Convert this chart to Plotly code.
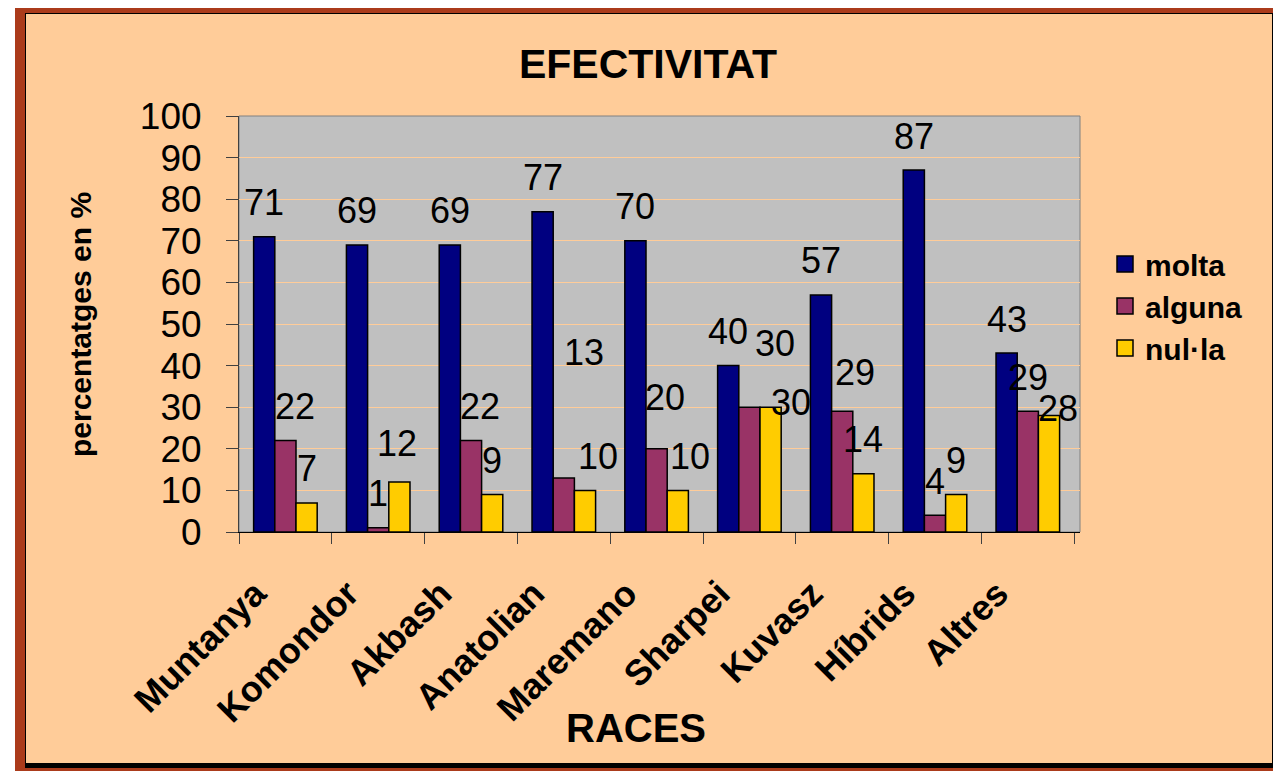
import plotly.graph_objects as go

# data
races = ["Muntanya", "Komondor", "Akbash", "Anatolian", "Maremano",
         "Sharpei", "Kuvasz", "Híbrids", "Altres"]
molta = [71, 69, 69, 77, 70, 40, 57, 87, 43]
alguna = [22, 1, 22, 13, 20, 30, 29, 4, 29]
nulla = [7, 12, 9, 10, 10, 30, 14, 9, 28]

series = [("molta", molta, "#000080"),
          ("alguna", alguna, "#993366"),
          ("nul·la", nulla, "#FFCC00")]

FONT = "Liberation Sans, Arial, sans-serif"
PAGE_W, PAGE_H = 1281, 771
OFF = 8                      # default body margin of the html page
W, H = PAGE_W - OFF, PAGE_H - OFF
PL, PR, PT, PB = 239, 1080, 116, 532   # plot area, page pixels
BARGAP = 0.315

def px(x):
    return (x - PL) / (PR - PL)

def py(y):
    return (PB - y) / (PB - PT)

# hand-moved data labels in the original (series, race): (dx, dy) px
label_nudge = {
    ("alguna", "Muntanya"): (10, 0),
    ("alguna", "Akbash"): (9, 0),
    ("alguna", "Anatolian"): (20, 91),
    ("nul·la", "Anatolian"): (13, 0),
    ("alguna", "Maremano"): (8, 17),
    ("nul·la", "Maremano"): (12, 0),
    ("alguna", "Sharpei"): (26, 30),
    ("nul·la", "Sharpei"): (20, -29),
    ("alguna", "Kuvasz"): (13, 5),
    ("nul·la", "Komondor"): (-2, 5),
    ("nul·la", "Altres"): (9, -27),
}

fig = go.Figure()
for name, vals, col in series:
    fig.add_trace(go.Bar(x=races, y=vals, name=name, marker_color=col,
                         marker_line=dict(color="black", width=1.5),
                         showlegend=False, hoverinfo="x+y+name"))
    # legend proxy with a bigger square
    fig.add_trace(go.Scatter(x=[None], y=[None], mode="markers", name=name,
                             marker=dict(symbol="square", size=18, color=col,
                                         line=dict(color="black", width=1.5))))

# data labels
bw = (1 - BARGAP) / 3
annos = []
for i, (name, vals, col) in enumerate(series):
    for j, v in enumerate(vals):
        dx, dy = label_nudge.get((name, races[j]), (0, 0))
        annos.append(dict(x=j + (i - 1) * bw, y=v, xref="x", yref="y",
                          text=str(v), showarrow=False, yanchor="middle",
                          xanchor="center", xshift=dx, yshift=34 + dy,
                          font=dict(family=FONT, size=36, color="black")))

# axis titles
annos.append(dict(x=px(80), y=py(325), xref="paper", yref="paper",
                  xanchor="center", yanchor="middle",
                  text="<b>percentatges en %</b>", textangle=-90,
                  showarrow=False, font=dict(family=FONT, size=30, color="black")))
annos.append(dict(x=px(636), y=py(728), xref="paper", yref="paper",
                  xanchor="center", yanchor="middle",
                  text="<b>RACES</b>", showarrow=False,
                  font=dict(family=FONT, size=40, color="black")))

# frame around the chart: white margin, red border, black edge/shadow
frame = [
    (0, 0, PAGE_W, 5, "white"), (0, 0, 15, PAGE_H, "white"),
    (15, 5, PAGE_W, 13, "#AB3B1B"), (15, 5, 25, PAGE_H, "#AB3B1B"),
    (1278, 5, PAGE_W, PAGE_H, "#AB3B1B"), (15, 768, PAGE_W, PAGE_H, "#AB3B1B"),
    (25, 13, 1278, 14, "black"), (25, 13, 26, 768, "black"),
    (1272, 13, 1278, 768, "black"), (25, 763, 1278, 768, "black"),
]
shapes = []
for x0, y0, x1, y1, c in frame:
    shapes.append(dict(type="rect", xref="paper", yref="paper",
                       x0=px(x0), x1=px(x1), y0=py(y1), y1=py(y0),
                       fillcolor=c, line_width=0, layer="above"))
shapes.append(dict(type="rect", xref="paper", yref="paper", x0=0, x1=1,
                   y0=0, y1=1, line=dict(color="#808080", width=1),
                   layer="below"))

fig.update_layout(
    width=W, height=H, autosize=False,
    margin=dict(l=PL - OFF, r=PAGE_W - PR, t=PT - OFF, b=PAGE_H - PB, pad=0),
    paper_bgcolor="#FFCC99", plot_bgcolor="#C0C0C0",
    barmode="group", bargap=BARGAP, bargroupgap=0,
    title=dict(text="<b>EFECTIVITAT</b>", x=(648 - OFF) / W, xref="container",
               xanchor="center", y=1 - (64 - OFF) / H, yref="container",
               yanchor="middle", font=dict(family=FONT, size=41, color="black")),
    font=dict(family=FONT, color="black"),
    legend=dict(x=px(1105), y=py(238), xanchor="left", yanchor="top",
                bgcolor="rgba(0,0,0,0)", tracegroupgap=0,
                font=dict(family=FONT, size=30, color="black", weight="bold")),
    annotations=annos, shapes=shapes,
)
fig.update_xaxes(type="category", tickson="boundaries", ticks="outside",
                 ticklen=11, tickcolor="#404040", tickangle=-45,
                 ticklabelstandoff=25, ticklabelshift=-30,
                 showline=True, linecolor="black", linewidth=1,
                 showgrid=False,
                 tickfont=dict(family=FONT, size=36, color="black", weight="bold"))
fig.update_yaxes(range=[0, 100], dtick=10, ticks="outside", ticklen=12,
                 tickcolor="#404040", showline=True, linecolor="#404040",
                 linewidth=1, showgrid=True, gridcolor="#FFCC99", gridwidth=1,
                 zeroline=False, ticklabelstandoff=17,
                 tickfont=dict(family=FONT, size=37, color="black"))

fig.write_html("out.html")
